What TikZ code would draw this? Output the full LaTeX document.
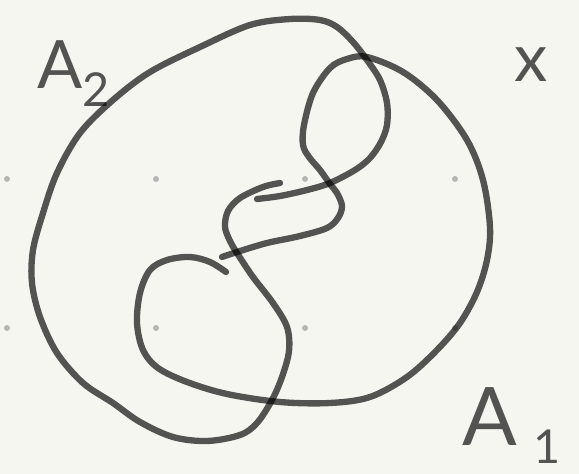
\documentclass[tikz,border=0pt]{standalone}
\usepackage{fontspec}
\setmainfont{Lato}
\definecolor{sketchbg}{HTML}{F6F6F1}
\definecolor{griddot}{HTML}{B6B6B4}
\definecolor{inkgray}{HTML}{000000}

\tikzset{
  ink/.style={draw=inkgray, draw opacity=0.66, line width=3.6pt, line cap=round, line join=round},
  inktext/.style={text=inkgray, text opacity=0.66, font=\fontsize{38}{40}\selectfont, inner sep=0pt}
}

\begin{document}
\begin{tikzpicture}[x=0.02cm, y=-0.02cm]
% Paper
\fill[sketchbg] (0,0) rectangle (579,474);
\useasboundingbox (0,0) rectangle (579,474);

% Draw grid dots
\foreach \i in {7,156,305,455}{
  \foreach \j in {179,328}{
    \fill[griddot] (\i,\j) circle (3);
  }
}

% Draw A_2 (outer curve)
\draw[ink] plot[smooth, tension=0.55] coordinates {
  (280,183) (263,187) (240,198) (228,211) (225,227) (230,241) (237,253)
  (253,277) (273,303) (287,327) (289,351) (282,377) (272,400) (257,423)
  (240,435) (207,441) (173,437) (140,422) (113,403) (83,383) (57,353)
  (40,317) (32,283) (33,250) (43,213) (57,173) (80,133) (113,100) (150,72)
  (200,47) (250,25) (290,19) (320,20) (337,27) (353,42) (367,60) (380,80)
  (387,103) (387,125) (381,142) (370,158) (355,170) (330,183) (307,190)
  (280,196) (257,199)};

% Draw A_1 (inner curve)
\draw[ink] plot[smooth, tension=0.55] coordinates {
  (222,257) (237,252) (267,243) (300,236) (327,228) (338,218) (342,206)
  (337,193) (330,184) (320,170) (309,157) (303,145) (304,125) (313,93)
  (330,68) (347,59) (367,57) (403,72) (437,100) (467,140) (483,180)
  (490,227) (487,260) (477,292) (460,323) (437,350) (407,377) (370,397)
  (330,403) (280,402) (227,394) (187,382) (158,368) (143,350) (137,323)
  (140,293) (150,270) (167,260) (190,257) (210,262) (226,272)};

% Labels
\node[inktext, anchor=base west] (labelA2) at (37,88) {A\textsubscript{2}};
\node[inktext, anchor=base west] (labelA1) at (462,445)
  {{\fontsize{46}{48}\selectfont A}\hspace{0.25em}\textsubscript{1}};
\node[inktext] (labelX) at (531,65) {x};
\end{tikzpicture}
\end{document}
